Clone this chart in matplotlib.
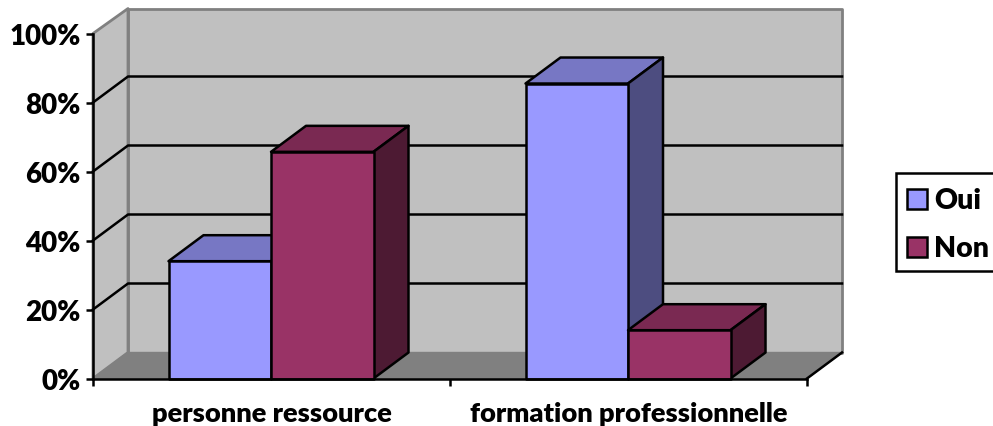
import matplotlib
matplotlib.use('Agg')
import matplotlib.pyplot as plt
from matplotlib.patches import Polygon, Rectangle

categories = ['personne ressource', 'formation professionnelle']
series_names = ['Oui', 'Non']
oui = [34, 85.5]
non = [65.7, 14]
y_ticks = [0, 20, 40, 60, 80, 100]
y_labels = ['0%', '20%', '40%', '60%', '80%', '100%']

colors = {'Oui': ('#9999FF', '#7777C4', '#4D4D80'),
          'Non': ('#993366', '#7A2952', '#4D1A33')}

W, H = 993, 427
LW = 1.8
plt.rcParams['font.family'] = ['Lato', 'DejaVu Sans']
plt.rcParams['font.weight'] = 'heavy'

fig = plt.figure(figsize=(W / 100, H / 100), dpi=100)
# front plane of the fake 3d box
ax = fig.add_axes([93 / W, 1 - 379.5 / H, 714 / W, 345 / H])
ax.set_xlim(0, 2)
ax.set_ylim(0, 100)
ax.patch.set_visible(False)
for s in ['top', 'right']:
    ax.spines[s].set_visible(False)
for s in ['left', 'bottom']:
    ax.spines[s].set_linewidth(LW)
    ax.spines[s].set_zorder(20)

# depth of the box, in data units
dx = 35 / 357
dy = 26 / 345 * 100
bar_w = 102.5 / 357
shift = -0.5 / 357


def poly(pts, face, edge='black', lw=LW, z=5):
    ax.add_patch(Polygon(pts, closed=True, facecolor=face, edgecolor=edge,
                         linewidth=lw, zorder=z, clip_on=False, joinstyle='round'))


# walls and floor
poly([(dx, dy), (2 + dx, dy), (2 + dx, 100 + dy - 0.3), (dx, 100 + dy - 0.3)], '#C0C0C0', '#808080', 2, 1)
poly([(0, 0), (dx, dy), (dx, 100 + dy - 0.3), (0, 100)], '#C0C0C0', '#808080', 2, 1)
poly([(0, 0), (2, 0), (2 + dx, dy), (dx, dy)], '#808080', '#808080', 1, 1)

# gridlines on side and back wall
for t in y_ticks[1:-1]:
    ax.plot([0, dx, 2 + dx], [t, t + dy, t + dy], color='black', lw=LW, zorder=2, clip_on=False)
ax.plot([2, 2 + dx], [0, dy], color='black', lw=LW, zorder=2, clip_on=False)

# bars, left to right so the later faces cover the earlier ones
for i in range(len(categories)):
    for j, (name, vals) in enumerate(zip(series_names, [oui, non])):
        x0 = i + 0.5 - bar_w + j * bar_w + shift
        x1 = x0 + bar_w
        v = vals[i]
        front, top, side = colors[name]
        z = 5 + i * 3 + j * 0.5
        poly([(x0, v), (x1, v), (x1 + dx, v + dy), (x0 + dx, v + dy)], top, z=z)
        poly([(x1, 0), (x1 + dx, dy), (x1 + dx, v + dy), (x1, v)], side, z=z)
        poly([(x0, 0), (x1, 0), (x1, v), (x0, v)], front, z=z + 0.1)

# axes ticks
ax.set_yticks(y_ticks)
ax.set_yticklabels(y_labels, fontsize=20, fontweight='heavy')
ax.tick_params(axis='y', length=5, width=LW, pad=4, color='black')
ax.set_xticks([0, 1, 2])
ax.set_xticklabels([])
ax.set_xticks([0.5, 1.5], minor=True)
ax.set_xticklabels(categories, minor=True, fontsize=19.6, fontweight='heavy')
ax.tick_params(axis='x', which='major', length=5, width=LW)
ax.tick_params(axis='x', which='minor', length=0, pad=16.5)

# legend box runs off the right edge in the original
fig.add_artist(Rectangle((896 / W, 1 - 272 / H), 110 / W, 98 / H, transform=fig.transFigure,
                         facecolor='white', edgecolor='black', linewidth=LW))
for name, yc in zip(series_names, [200, 248]):
    fig.add_artist(Rectangle((907 / W, 1 - (yc + 10) / H), 20 / W, 20 / H, transform=fig.transFigure,
                             facecolor=colors[name][0], edgecolor='black', linewidth=LW))
    fig.text(934.5 / W, 1 - (yc + 1) / H, name, fontsize=20.5, fontweight='heavy', va='center', ha='left')

fig.savefig('out.png', dpi=100)
